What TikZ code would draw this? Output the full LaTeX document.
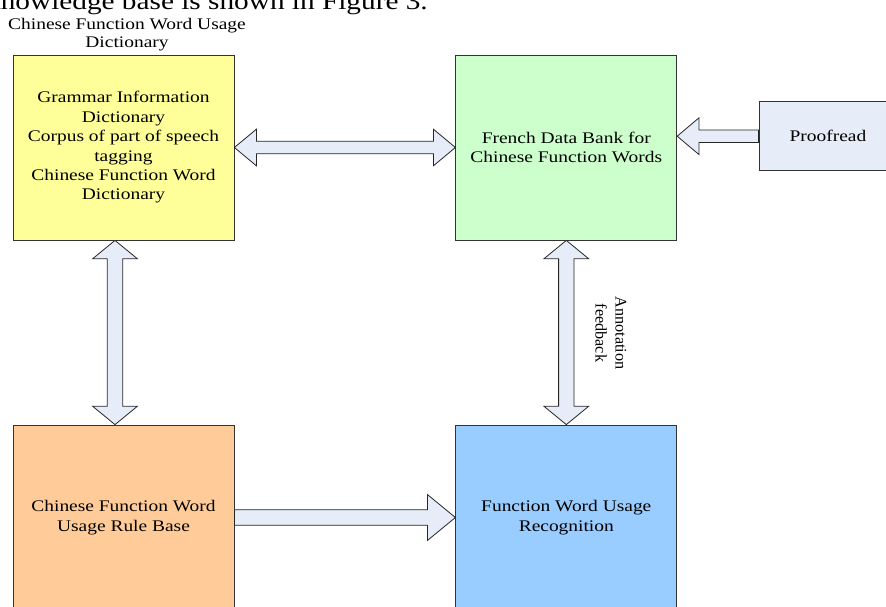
\documentclass[tikz,border=0pt]{standalone}
\usepackage{fontspec}
\setmainfont{Liberation Serif}[FakeStretch=1.2]
\newfontfamily\serifDroit{Liberation Serif}
\usepackage{tikz}
\usetikzlibrary{calc}
\definecolor{boiteJaune}{HTML}{FFFF99}
\definecolor{boiteVert}{HTML}{CCFFCC}
\definecolor{boiteOrange}{HTML}{FFCC99}
\definecolor{boiteBleu}{HTML}{99CCFF}
\definecolor{flecheFond}{HTML}{E6ECF8}
\begin{document}
\begin{tikzpicture}[x=1pt,y=-1pt,
	boite/.style={draw=black!80,line width=0.8pt,minimum width=221pt,minimum height=185pt,align=center,font=\fontsize{16.2}{19.4}\selectfont},
	fleche/.style={draw=black!85,line width=0.8pt,fill=flecheFond,line join=miter}]
	%
	% Cadre de l'image
	\useasboundingbox (0,0) rectangle (886,606);
	%
	% Flèches (pointe, demi-largeur de pointe, demi-largeur de tige)
	\def\flecheDoubleH#1#2#3#4#5{\draw[fleche] (#1) -- ($(#1)+(#3,-#4)$) -- ($(#1)+(#3,-#5)$) -- ($(#2)+(-#3,-#5)$) -- ($(#2)+(-#3,-#4)$) -- (#2) -- ($(#2)+(-#3,#4)$) -- ($(#2)+(-#3,#5)$) -- ($(#1)+(#3,#5)$) -- ($(#1)+(#3,#4)$) -- cycle;}
	\def\flecheDoubleV#1#2#3#4#5{\draw[fleche] (#1) -- ($(#1)+(#4,#3)$) -- ($(#1)+(#5,#3)$) -- ($(#2)+(#5,-#3)$) -- ($(#2)+(#4,-#3)$) -- (#2) -- ($(#2)+(-#4,-#3)$) -- ($(#2)+(-#5,-#3)$) -- ($(#1)+(-#5,#3)$) -- ($(#1)+(-#4,#3)$) -- cycle;}
	\def\flecheSimple#1#2#3#4#5{\draw[fleche] (#2) -- ($(#2)+(#3,-#4)$) -- ($(#2)+(#3,-#5)$) -- ($(#1)+(0,-#5)$) -- ($(#1)+(0,#5)$) -- ($(#2)+(#3,#5)$) -- ($(#2)+(#3,#4)$) -- cycle;}
	%
	% Textes
	\node[anchor=base west,inner sep=0pt,font=\fontsize{24.4}{29}\selectfont] (phrase) at (-14,9.3) {knowledge base is shown in Figure 3.};
	\node[anchor=base,align=center,inner sep=0pt,font=\fontsize{16.2}{18.4}\selectfont] (titre) at (127,47.7) {Chinese Function Word Usage\\Dictionary};
	%
	% Boîtes
	\node[boite,fill=boiteJaune] (gram) at (123.5,147.5) {Grammar Information\\Dictionary\\Corpus of part of speech\\tagging\\Chinese Function Word\\Dictionary};
	\node[boite,fill=boiteVert] (banque) at (566.3,147.5) {French Data Bank for\\Chinese Function Words};
	\node[boite,fill=flecheFond,minimum width=138pt,minimum height=69pt] (relect) at (828,136.2) {Proofread};
	\node[boite,fill=boiteOrange] (regles) at (123.5,517.5) {Chinese Function Word\\Usage Rule Base};
	\node[boite,fill=boiteBleu] (reconn) at (566.3,517.5) {Function Word Usage\\Recognition};
	\node[rotate=-90,align=center,font=\serifDroit\fontsize{16.2}{20}\selectfont] (annot) at (611,333) {Annotation\\feedback};
	%
	% Liaisons
	\coordinate (gramBas) at ($(gram.south)+(-8.5,0)$);
	\coordinate (reglesHaut) at (gramBas |- regles.north);
	\coordinate (banqueDroite) at (banque.east |- relect.west);
	\flecheDoubleH{gram.east}{banque.west}{22}{18.3}{6.3}
	\flecheDoubleV{gramBas}{reglesHaut}{18.3}{22.3}{7.7}
	\flecheDoubleV{banque.south}{reconn.north}{18.3}{22.3}{7.7}
	\flecheSimple{relect.west}{banqueDroite}{21.7}{18.3}{6.3}
	\flecheSimple{regles.east}{reconn.west}{-28}{23}{7.8}
\end{tikzpicture}
\end{document}
